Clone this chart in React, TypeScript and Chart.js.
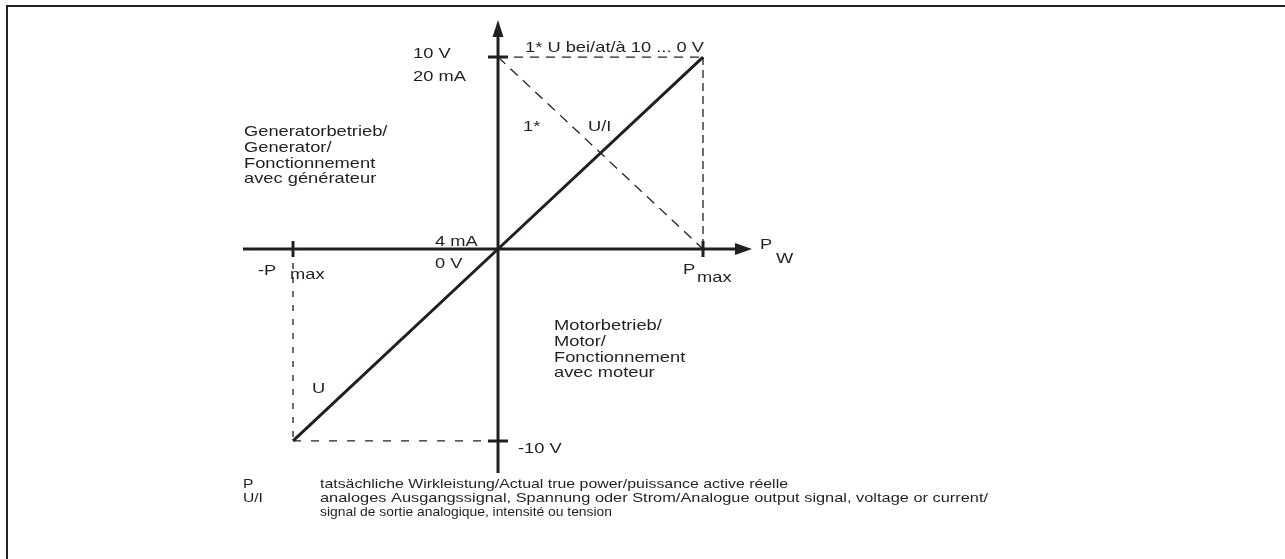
import React, { useEffect, useRef } from "react";
import { Chart, registerables } from "chart.js";

Chart.register(...registerables);

// ---- data (normalised: P in units of Pmax, signal in volts) ----
const P_TICKS = [-1, 1]; // -Pmax, Pmax
const P_TICK_LABELS = ["-P", "P"];
const U_TICKS = [-10, 10]; // -10 V, 10 V
const U_TICK_LABELS = ["-10 V", "10 V"];
const CHAR_P = [-1, 0, 1]; // U/I characteristic
const CHAR_U = [-10, 0, 10];
const INV_P = [0, 1]; // 1* U at 10 ... 0 V
const INV_U = [10, 0];
const LEGEND_KEYS = ["P", "U/I"];
const LEGEND_TEXT = [
  ["tatsächliche Wirkleistung/Actual true power/puissance active réelle"],
  [
    "analoges Ausgangssignal, Spannung oder Strom/Analogue output signal, voltage or current/",
    "signal de sortie analogique, intensité ou tension",
  ],
];
const LEGEND_WIDTHS = [468, 668, 292];
const GEN_TEXT = ["Generatorbetrieb/", "Generator/", "Fonctionnement", "avec générateur"];
const MOT_TEXT = ["Motorbetrieb/", "Motor/", "Fonctionnement", "avec moteur"];

const INK = "#231f20";
const FONT = '"Liberation Sans", Arial, Helvetica, sans-serif';
const SX = 1.22;

function txt(ctx: CanvasRenderingContext2D, s: string, x: number, y: number, size = 15, sx = SX, width = 0) {
  ctx.save();
  ctx.font = `${size}px ${FONT}`;
  ctx.fillStyle = INK;
  ctx.textAlign = "left";
  ctx.textBaseline = "alphabetic";
  if (width > 0) sx = width / ctx.measureText(s).width;
  ctx.translate(x, y);
  ctx.scale(sx, 1);
  ctx.fillText(s, 0, 0);
  ctx.restore();
}

const pts = (xs: number[], ys: number[]) => xs.map((x, i) => ({ x, y: ys[i] }));

const diagramPlugin = {
  id: "diagram",
  beforeDatasetsDraw(chart: any) {
    const ctx: CanvasRenderingContext2D = chart.ctx;
    const xs = chart.scales.x;
    const ys = chart.scales.y;
    const a = chart.chartArea;
    const xo = xs.getPixelForValue(0);
    const yo = ys.getPixelForValue(0);
    ctx.save();
    ctx.strokeStyle = INK;
    ctx.fillStyle = INK;
    // frame
    ctx.lineWidth = 2;
    ctx.beginPath();
    ctx.moveTo(7, 559);
    ctx.lineTo(7, 6);
    ctx.lineTo(1285, 6);
    ctx.stroke();
    // axes
    ctx.lineWidth = 3;
    ctx.beginPath();
    ctx.moveTo(a.left, yo);
    ctx.lineTo(a.right - 10, yo);
    ctx.moveTo(xo, a.bottom);
    ctx.lineTo(xo, a.top + 10);
    ctx.stroke();
    // arrowheads
    ctx.beginPath();
    ctx.moveTo(a.right, yo);
    ctx.lineTo(a.right - 17, yo - 6);
    ctx.lineTo(a.right - 17, yo + 6);
    ctx.closePath();
    ctx.fill();
    ctx.beginPath();
    ctx.moveTo(xo, a.top);
    ctx.lineTo(xo - 5.5, a.top + 17);
    ctx.lineTo(xo + 5.5, a.top + 17);
    ctx.closePath();
    ctx.fill();
    // ticks
    ctx.lineWidth = 3;
    ctx.beginPath();
    P_TICKS.forEach((p) => {
      const px = xs.getPixelForValue(p);
      ctx.moveTo(px, yo - 8);
      ctx.lineTo(px, yo + 8);
    });
    U_TICKS.forEach((u) => {
      const py = ys.getPixelForValue(u);
      ctx.moveTo(xo - 10, py);
      ctx.lineTo(xo + 10, py);
    });
    ctx.stroke();
    ctx.restore();
  },
  afterDatasetsDraw(chart: any) {
    const ctx: CanvasRenderingContext2D = chart.ctx;
    const xs = chart.scales.x;
    const ys = chart.scales.y;
    const xo = xs.getPixelForValue(0);
    const yo = ys.getPixelForValue(0);
    const uMax = ys.getPixelForValue(U_TICKS[1]);
    // y tick labels
    txt(ctx, U_TICK_LABELS[1], xo - 85, yo - 191);
    txt(ctx, "20 mA", xo - 85, yo - 168);
    txt(ctx, U_TICK_LABELS[0], xo + 20, yo + 204);
    txt(ctx, "1* U bei/at/à 10 ... 0 V", xo + 27, uMax - 5);
    // origin labels
    txt(ctx, "4 mA", xo - 63, yo - 3);
    txt(ctx, "0 V", xo - 63, yo + 19);
    // x tick labels
    txt(ctx, P_TICK_LABELS[0], xo - 240, yo + 26);
    txt(ctx, "max", xo - 208, yo + 30);
    txt(ctx, P_TICK_LABELS[1], xo + 185, yo + 25);
    txt(ctx, "max", xo + 199, yo + 33);
    // axis title
    txt(ctx, "P", xo + 262, yo);
    txt(ctx, "W", xo + 278, yo + 14);
    // curve labels
    txt(ctx, "1*", xo + 25, yo - 118);
    txt(ctx, "U/I", xo + 90, yo - 118);
    txt(ctx, "U", xo - 186, yo + 144);
    // quadrant texts
    GEN_TEXT.forEach((s, i) => txt(ctx, s, xo - 254, yo - 113 + i * 15.8));
    MOT_TEXT.forEach((s, i) => txt(ctx, s, xo + 56, yo + 81 + i * 15.8));
    // legend
    let row = 0;
    LEGEND_KEYS.forEach((k, i) => {
      txt(ctx, k, 243, 488 + row * 14, 13, 1.2);
      LEGEND_TEXT[i].forEach((s) => {
        txt(ctx, s, 320, 488 + row * 14, 13, 1.2, LEGEND_WIDTHS[row]);
        row++;
      });
    });
  },
};

export default function App() {
  const ref = useRef<HTMLCanvasElement>(null);
  useEffect(() => {
    document.body.style.margin = "0";
    const canvas = ref.current!;
    const guide = (data: any[], dash: number[]) => ({
      data,
      showLine: true,
      borderColor: INK,
      borderWidth: 1.3,
      borderDash: dash,
      pointRadius: 0,
      fill: false,
    });
    const chart = new Chart(canvas, {
      type: "scatter",
      data: {
        datasets: [
          {
            data: pts(CHAR_P, CHAR_U),
            showLine: true,
            borderColor: INK,
            borderWidth: 3,
            pointRadius: 0,
            fill: false,
          } as any,
          guide(pts(INV_P, INV_U), [10, 7]),
          guide(pts([0, P_TICKS[1]], [U_TICKS[1], U_TICKS[1]]), [9, 7]),
          guide(pts([P_TICKS[1], P_TICKS[1]], [U_TICKS[1], 0]), [8, 5]),
          guide(pts([P_TICKS[0], P_TICKS[0]], [0, U_TICKS[0]]), [6, 8]),
          guide(pts([P_TICKS[0], 0], [U_TICKS[0], U_TICKS[0]]), [8, 10]),
        ],
      },
      options: {
        responsive: false,
        animation: false,
        layout: { padding: { left: 243, right: 533, top: 20, bottom: 86 } },
        scales: {
          x: { type: "linear", min: -1.244, max: 1.239, display: false },
          y: { type: "linear", min: -11.67, max: 11.93, display: false },
        },
        plugins: { legend: { display: false }, tooltip: { enabled: false } },
        elements: { point: { radius: 0 } },
      },
      plugins: [diagramPlugin],
    } as any);
    return () => chart.destroy();
  }, []);
  return (
    <div style={{ width: 1285, height: 559, background: "#fff" }}>
      <canvas ref={ref} width={1285} height={559} style={{ display: "block" }} />
    </div>
  );
}
